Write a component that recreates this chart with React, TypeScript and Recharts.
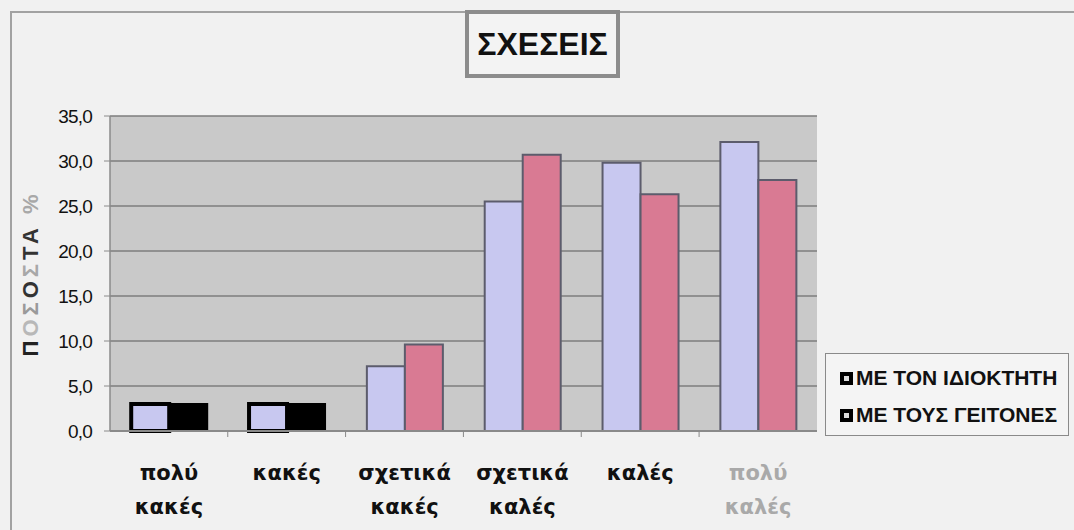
import React from "react";
import { BarChart, Bar, XAxis, YAxis, CartesianGrid, Legend, Cell } from "recharts";

const categories = ["πολύ κακές", "κακές", "σχετικά κακές", "σχετικά καλές", "καλές", "πολύ καλές"];
const ownerValues = [3.0, 3.0, 7.2, 25.5, 29.8, 32.1];
const neighbourValues = [3.0, 3.0, 9.6, 30.7, 26.3, 27.9];
const yTicks = [0, 5, 10, 15, 20, 25, 30, 35];
const seriesNames = ["ΜΕ ΤΟΝ ΙΔΙΟΚΤΗΤΗ", "ΜΕ ΤΟΥΣ ΓΕΙΤΟΝΕΣ"];
const titleText = "ΣΧΕΣΕΙΣ";
const yTitleParts = ["Π", "Ο", "Σ", "Ο", "Σ", "Τ", "Α", " %"];
const yTitleColors = ["#222", "#b8b8b8", "#9a9a9a", "#333", "#a8a8a8", "#333", "#333", "#a8a8a8"];
const darkenedCategories = [true, true, false, false, false, false];

const data = categories.map((c, i) => ({ name: c, owner: ownerValues[i], neighbours: neighbourValues[i] }));

const BLUE = "#c8c8f0";
const PINK = "#d97a93";
const BAR_STROKE = "#5c5c6c";

const XTick = (props: any) => {
  const { x, y, payload, index } = props;
  const lines = String(payload.value).split(" ");
  const fill = index === categories.length - 1 ? "#a9a9a9" : "#111";
  return (
    <g>
      {index > 0 && <line x1={x - 59} x2={x - 59} y1={y} y2={y + 6} stroke="#888" strokeWidth={1} />}
      <text textAnchor="middle" fill={fill} fontFamily="DejaVu Sans" fontWeight="bold" fontSize={21}>
        {lines.map((l, i) => (
          <tspan key={i} x={x} y={y + 49 + i * 34}>{l}</tspan>
        ))}
      </text>
    </g>
  );
};

const YTitle = (props: any) => {
  const vb = props.viewBox || { x: 0, y: 116, width: 110, height: 315 };
  const cy = vb.y + vb.height / 2;
  const cx = 30;
  return (
    <text
      x={cx}
      y={cy}
      transform={`rotate(-90 ${cx} ${cy})`}
      textAnchor="middle"
      dominantBaseline="central"
      fontFamily="Liberation Sans"
      fontWeight="bold"
      fontSize={22}
      letterSpacing={4}
    >
      {yTitleParts.map((p, i) => (
        <tspan key={i} fill={yTitleColors[i]}>{p}</tspan>
      ))}
    </text>
  );
};

const LegendBox = () => (
  <div
    style={{
      width: 244,
      height: 83,
      boxSizing: "border-box",
      border: "1px solid #8a8a8a",
      background: "#f4f4f4",
      fontFamily: "Liberation Sans",
      fontSize: 21,
      fontWeight: "bold",
      color: "#111",
      position: "relative",
    }}
  >
    {seriesNames.map((n, i) => (
      <div
        key={n}
        style={{ position: "absolute", left: 14, top: 12 + i * 37, display: "flex", alignItems: "center", whiteSpace: "nowrap" }}
      >
        <span
          style={{
            display: "inline-block",
            width: 13,
            height: 13,
            boxSizing: "border-box",
            background: "#ddd",
            border: "4px solid #000",
            marginRight: 3,
          }}
        />
        <span>{n}</span>
      </div>
    ))}
  </div>
);

export default function App() {
  return (
    <div style={{ position: "absolute", left: 0, top: 0, width: 1074, height: 530, background: "#f1f1f1", overflow: "hidden" }}>
      <div
        style={{
          position: "absolute",
          left: 10,
          top: 11,
          width: 1080,
          height: 540,
          border: "2px solid #a2a2a2",
        }}
      />
      <div style={{ position: "absolute", left: 0, top: 0 }}>
        <BarChart
          width={1074}
          height={530}
          data={data}
          margin={{ top: 116, right: 257, bottom: 0, left: 0 }}
          barCategoryGap="18%"
          barGap={0}
        >
          <CartesianGrid vertical={false} fill="#c9c9c9" stroke="#7c7c7c" strokeWidth={1.5} />
          <XAxis
            dataKey="name"
            height={99}
            tickLine={false}
            tickSize={0}
            tickMargin={0}
            interval={0}
            axisLine={{ stroke: "#8a8a8a", strokeWidth: 2 }}
            tick={<XTick />}
          />
          <YAxis
            width={110}
            domain={[0, 35]}
            ticks={yTicks}
            interval={0}
            tickSize={6}
            tickMargin={12}
            tickFormatter={(v: number) => v.toFixed(1).replace(".", ",")}
            tick={{ fill: "#111", fontFamily: "Liberation Sans", fontSize: 19, letterSpacing: -0.8 }}
            axisLine={{ stroke: "#8a8a8a", strokeWidth: 1.5 }}
            tickLine={{ stroke: "#8a8a8a" }}
            label={<YTitle />}
          />
          <Legend
            layout="horizontal"
            verticalAlign="middle"
            align="center"
            wrapperStyle={{ left: 825, top: 353, width: 244, height: 83, right: "auto", bottom: "auto" }}
            content={<LegendBox />}
          />
          <Bar dataKey="owner" name={seriesNames[0]} fill={BLUE} stroke={BAR_STROKE} strokeWidth={2} isAnimationActive={false}>
            {data.map((d, i) => (
              <Cell key={i} fill={BLUE} stroke={darkenedCategories[i] ? "#000" : BAR_STROKE} strokeWidth={darkenedCategories[i] ? 4 : 2} />
            ))}
          </Bar>
          <Bar dataKey="neighbours" name={seriesNames[1]} fill={PINK} stroke={BAR_STROKE} strokeWidth={2} isAnimationActive={false}>
            {data.map((d, i) => (
              <Cell key={i} fill={darkenedCategories[i] ? "#000" : PINK} stroke={darkenedCategories[i] ? "#000" : BAR_STROKE} strokeWidth={2} />
            ))}
          </Bar>
        </BarChart>
      </div>
      <div
        style={{
          position: "absolute",
          left: 465,
          top: 10,
          width: 155,
          height: 68,
          boxSizing: "border-box",
          border: "4px solid #8c8c8c",
          background: "#f3f3f3",
          display: "flex",
          alignItems: "center",
          justifyContent: "center",
          fontFamily: "Liberation Sans",
          fontWeight: "bold",
          fontSize: 32,
          color: "#111",
        }}
      >
        {titleText}
      </div>
    </div>
  );
}
